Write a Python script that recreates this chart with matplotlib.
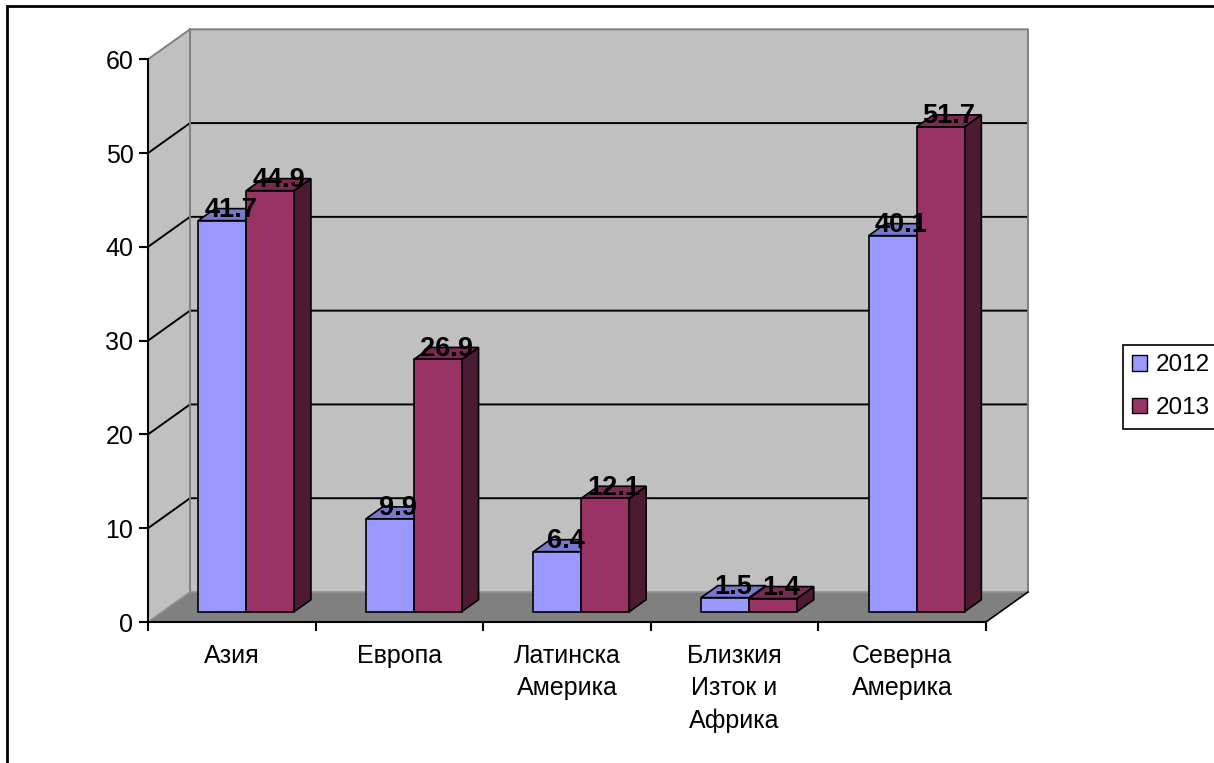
import matplotlib
matplotlib.use('Agg')
import matplotlib.pyplot as plt
from matplotlib.patches import Polygon, Rectangle, Patch

# ---- data ----
categories = ['Азия', 'Европа', 'Латинска\nАмерика', 'Близкия\nИзток и\nАфрика', 'Северна\nАмерика']
series_names = ['2012', '2013']
values_2012 = [41.7, 9.9, 6.4, 1.5, 40.1]
values_2013 = [44.9, 26.9, 12.1, 1.4, 51.7]
y_ticks = [0, 10, 20, 30, 40, 50, 60]

front_colors = ['#9999FF', '#993366']
top_colors = ['#7777CC', '#7A2952']
side_colors = ['#4D4D80', '#4D1A33']

plt.rcParams['font.family'] = ['Liberation Sans', 'DejaVu Sans']

W, H = 1214, 763
fig = plt.figure(figsize=(W / 100, H / 100), dpi=100)
fig.patch.set_facecolor('white')

ax_left, ax_right, ax_bottom, ax_top = 148, 986, 622, 59.3
ax = fig.add_axes([ax_left / W, 1 - ax_bottom / H, (ax_right - ax_left) / W, (ax_bottom - ax_top) / H])
ncat = len(categories)
ymax = y_ticks[-1]
ax.set_xlim(0, ncat)
ax.set_ylim(0, ymax)
ax.patch.set_visible(False)

# 3D depth offset expressed in data units
DX = 42 / ((ax_right - ax_left) / ncat)
DY = 30 / ((ax_bottom - ax_top) / ymax)

wall_c = '#C0C0C0'
floor_c = '#808080'
edge_gray = '#808080'

# walls and floor
ax.add_patch(Polygon([(0, 0), (0, ymax), (DX, ymax + DY), (DX, DY)], closed=True,
                     fc=wall_c, ec='none', clip_on=False, zorder=0.5))
ax.add_patch(Polygon([(DX, DY), (ncat + DX, DY), (ncat + DX, ymax + DY), (DX, ymax + DY)], closed=True,
                     fc=wall_c, ec='none', clip_on=False, zorder=0.5))
ax.add_patch(Polygon([(0, 0), (ncat, 0), (ncat + DX, DY), (DX, DY)], closed=True,
                     fc=floor_c, ec='none', clip_on=False, zorder=0.6))

# gridlines on walls
for v in y_ticks[1:-1]:
    ax.plot([0, DX, ncat + DX], [v, v + DY, v + DY], color='black', lw=1.4,
            clip_on=False, zorder=0.8, solid_capstyle='butt')

# wall edges
ax.plot([0, DX, ncat + DX, ncat + DX], [ymax, ymax + DY, ymax + DY, DY], color=edge_gray, lw=1.4,
        clip_on=False, zorder=0.9)
ax.plot([DX, DX], [DY, ymax + DY], color=edge_gray, lw=1.4, clip_on=False, zorder=0.9)
ax.plot([0, DX, ncat + DX], [0, DY, DY], color='#909090', lw=1.2, clip_on=False, zorder=0.9)
ax.plot([ncat, ncat + DX], [0, DY], color='black', lw=1.2, clip_on=False, zorder=0.9)

# bars
GAP, BW = 0.214, 0.286
D0, D1 = 0.343, 0.743
ddx = (D1 - D0) * DX
ddy = (D1 - D0) * DY
z = 3
for i in range(ncat):
    for s, vals in enumerate([values_2012, values_2013]):
        v = vals[i]
        x0 = i + GAP + s * BW + D0 * DX
        x1 = x0 + BW
        y0 = D0 * DY
        y1 = v + D0 * DY
        side = [(x1, y0), (x1 + ddx, y0 + ddy), (x1 + ddx, y1 + ddy), (x1, y1)]
        top = [(x0, y1), (x1, y1), (x1 + ddx, y1 + ddy), (x0 + ddx, y1 + ddy)]
        front = [(x0, y0), (x1, y0), (x1, y1), (x0, y1)]
        for poly, col in ((side, side_colors[s]), (top, top_colors[s]), (front, front_colors[s])):
            ax.add_patch(Polygon(poly, closed=True, fc=col, ec='black', lw=1.2,
                                 joinstyle='miter', clip_on=False, zorder=z))
        z += 0.01

# data labels
for s, vals in enumerate([values_2012, values_2013]):
    for i, v in enumerate(vals):
        x0 = i + GAP + s * BW + D0 * DX
        ax.text(x0 + BW / 2 + ddx / 2, v + D1 * DY - 0.9, f'{v}', ha='center', va='baseline',
                fontsize=19.5, fontweight='bold', color='black', zorder=10, clip_on=False)

# axes: spines and ticks
for sp in ('top', 'right'):
    ax.spines[sp].set_visible(False)
for sp in ('left', 'bottom'):
    ax.spines[sp].set_linewidth(1.5)
    ax.spines[sp].set_zorder(2)
ax.set_yticks(y_ticks)
ax.set_yticklabels([str(t) for t in y_ticks])
ax.tick_params(axis='y', direction='out', length=6.5, width=1.5, labelsize=18, pad=4.0)
ax.set_xticks(range(ncat + 1))
ax.set_xticklabels([])
ax.tick_params(axis='x', which='major', direction='out', length=6.5, width=1.5)
ax.set_xticks([i + 0.5 for i in range(ncat)], minor=True)
ax.set_xticklabels(categories, minor=True)
ax.tick_params(axis='x', which='minor', length=0, labelsize=18, pad=16.0)
for lbl in ax.get_xticklabels(minor=True):
    lbl.set_linespacing(1.41)

# legend
handles = [Patch(facecolor=front_colors[k], edgecolor='black', linewidth=1.0) for k in range(2)]
leg = fig.legend(handles, series_names, loc='upper left',
                 bbox_to_anchor=(1122.7 / W, 1 - 344.7 / H), bbox_transform=fig.transFigure,
                 frameon=True, fancybox=False, framealpha=1, edgecolor='black',
                 fontsize=17.5, handlelength=0.6, handleheight=0.6, handletextpad=0.35,
                 borderpad=0.4, labelspacing=0.85, borderaxespad=0)
leg.get_frame().set_linewidth(1.2)

# outer chart border
fig.add_artist(Rectangle((7 / W, -0.5), 2, 1.5 - 6 / H, transform=fig.transFigure,
                         fill=False, ec='black', lw=2.0))

fig.savefig('out.png', dpi=100)
